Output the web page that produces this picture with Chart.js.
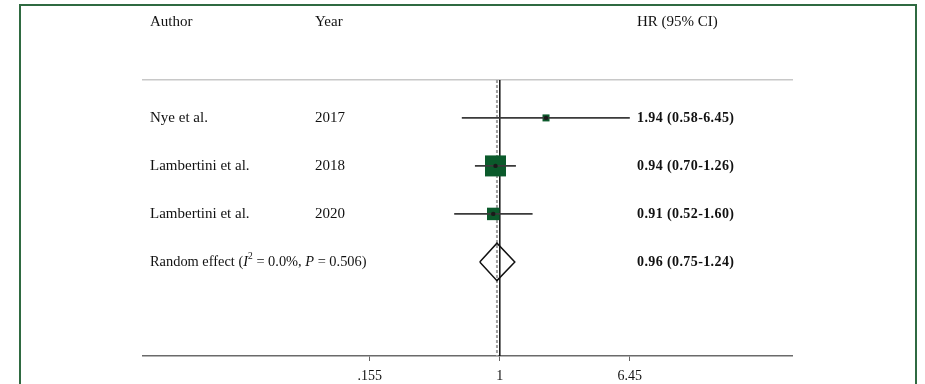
<!DOCTYPE html>
<html>
<head>
<meta charset="utf-8">
<script src="https://cdn.jsdelivr.net/npm/chart.js@4/dist/chart.umd.min.js"></script>
<style>
  html, body { margin: 0; padding: 0; background: #fff; overflow: hidden; }
  #wrap { position: relative; width: 925px; height: 384px; }
  #frame { position: absolute; left: 19px; top: 4px; width: 898px; height: 400px;
           border: 2px solid #2f6a41; border-bottom: none; box-sizing: border-box; pointer-events: none; }
  canvas { position: absolute; left: 0; top: 0; }
</style>
</head>
<body>
<div id="wrap">
  <canvas id="forest" width="925" height="384"></canvas>
  <div id="frame"></div>
</div>
<script>
// Study rows
const authors = ['Nye et al.', 'Lambertini et al.', 'Lambertini et al.'];
const years = ['2017', '2018', '2020'];
const hazardRatios = [1.94, 0.94, 0.91];
const ciLower = [0.58, 0.70, 0.52];
const ciUpper = [6.45, 1.26, 1.60];
const studyWeights = [7.6, 68.3, 24.1];

// Pooled (random effect) estimate
const pooledHR = 0.96;
const pooledLower = 0.75;
const pooledUpper = 1.24;
const pooledI2 = '0.0%';
const pooledP = '0.506';

// Axis ticks
const tickValues = [0.155, 1, 6.45];
const tickLabels = ['.155', '1', '6.45'];

const X_MIN = 0.006, X_MAX = 66;
const Y_MIN = 0.21, Y_MAX = 5.96;
const pooledRow = authors.length + 1;

const SERIF = "'Liberation Serif', 'Times New Roman', serif";
const GREEN = '#0b5a2b';
const MAX_SIDE = 21;

const fmt = v => v.toFixed(2);
const wMax = Math.max(...studyWeights);
const squareRadius = studyWeights.map(w => MAX_SIDE * Math.sqrt(w / wMax) / Math.SQRT2);

const datasets = [];

// reference line at HR = 1 and dashed line at the pooled estimate
datasets.push({
  type: 'line', order: 10,
  data: [{ x: 1, y: Y_MIN }, { x: 1, y: Y_MAX }],
  borderColor: '#111', borderWidth: 1.5, pointRadius: 0, fill: false
});
datasets.push({
  type: 'line', order: 9,
  data: [{ x: pooledHR, y: Y_MIN }, { x: pooledHR, y: Y_MAX }],
  borderColor: '#a0a0a0', borderWidth: 2, borderDash: [3, 2], pointRadius: 0, fill: false
});

// weighted squares
datasets.push({
  type: 'scatter', order: 8,
  data: hazardRatios.map((v, i) => ({ x: v, y: i + 1 })),
  pointStyle: 'rect', pointRadius: squareRadius,
  backgroundColor: GREEN, borderWidth: 0
});

// confidence interval whiskers
hazardRatios.forEach((v, i) => {
  datasets.push({
    type: 'line', order: 7,
    data: [{ x: ciLower[i], y: i + 1 }, { x: ciUpper[i], y: i + 1 }],
    borderColor: '#3a3a3a', borderWidth: 1.6, pointRadius: 0, fill: false
  });
});

// point estimate dots
datasets.push({
  type: 'scatter', order: 6,
  data: hazardRatios.map((v, i) => ({ x: v, y: i + 1 })),
  pointStyle: 'circle', pointRadius: 2.2,
  backgroundColor: '#1a1a1a', borderWidth: 0
});

// pooled diamond
const dh = 0.39;
datasets.push({
  type: 'line', order: 5,
  data: [
    { x: pooledLower, y: pooledRow },
    { x: pooledHR, y: pooledRow - dh },
    { x: pooledUpper, y: pooledRow },
    { x: pooledHR, y: pooledRow + dh },
    { x: pooledLower, y: pooledRow }
  ],
  borderColor: '#111', borderWidth: 1.5, pointRadius: 0, fill: false, tension: 0
});

function drawSegments(ctx, x, y, parts) {
  let cx = x;
  parts.forEach(p => {
    ctx.font = p.font;
    ctx.fillText(p.text, cx, y + (p.dy || 0));
    cx += ctx.measureText(p.text).width;
  });
}

const textColumns = {
  id: 'textColumns',
  afterDraw(chart) {
    const { ctx, chartArea } = chart;
    const ys = chart.scales.y;
    const authorX = chartArea.left + 7;
    const yearX = chartArea.left + 172;
    const hrX = chartArea.right - 155;
    const norm = '15px ' + SERIF;
    const bold = 'bold 14px ' + SERIF;
    ctx.save();
    ctx.fillStyle = '#111';
    ctx.textBaseline = 'middle';
    ctx.textAlign = 'left';

    const headY = chartArea.top - 58;
    ctx.font = norm;
    ctx.fillText('Author', authorX, headY);
    ctx.fillText('Year', yearX, headY);
    ctx.fillText('HR (95% CI)', hrX, headY);

    authors.forEach((a, i) => {
      const y = ys.getPixelForValue(i + 1);
      ctx.font = norm;
      ctx.letterSpacing = '0px';
      ctx.fillText(a, authorX, y);
      ctx.fillText(years[i], yearX, y);
      ctx.font = bold;
      ctx.letterSpacing = '0.4px';
      ctx.fillText(fmt(hazardRatios[i]) + ' (' + fmt(ciLower[i]) + '-' + fmt(ciUpper[i]) + ')', hrX, y);
    });

    const py = ys.getPixelForValue(pooledRow);
    ctx.letterSpacing = '0px';
    const small = '14.4px ' + SERIF;
    drawSegments(ctx, authorX, py, [
      { text: 'Random effect (', font: small },
      { text: 'I', font: 'italic 14.4px ' + SERIF },
      { text: '2', font: '9.5px ' + SERIF, dy: -5 },
      { text: ' = ' + pooledI2 + ', ', font: small },
      { text: 'P', font: 'italic 14.4px ' + SERIF },
      { text: ' = ' + pooledP + ')', font: small }
    ]);
    ctx.font = bold;
    ctx.letterSpacing = '0.4px';
    ctx.fillText(fmt(pooledHR) + ' (' + fmt(pooledLower) + '-' + fmt(pooledUpper) + ')', hrX, py);
    ctx.restore();
  }
};

new Chart(document.getElementById('forest'), {
  type: 'scatter',
  data: { datasets },
  options: {
    responsive: false,
    animation: false,
    events: [],
    layout: { padding: { left: 143, right: 133, top: 80, bottom: 0 } },
    plugins: { legend: { display: false }, tooltip: { enabled: false } },
    scales: {
      x: {
        type: 'logarithmic', position: 'bottom', min: X_MIN, max: X_MAX,
        afterBuildTicks: s => { s.ticks = tickValues.map(v => ({ value: v })); },
        afterFit: s => { s.height = 28; },
        ticks: {
          autoSkip: false, maxRotation: 0, padding: 7, color: '#111',
          font: { family: SERIF, size: 14 },
          callback: v => tickLabels[tickValues.indexOf(v)]
        },
        grid: { drawOnChartArea: false, drawTicks: true, tickLength: 5, color: '#666', lineWidth: 1 },
        border: { display: true, color: '#6a6a6a', width: 1.5 }
      },
      xTop: {
        type: 'logarithmic', position: 'top', min: X_MIN, max: X_MAX,
        afterFit: s => { s.height = 0; },
        ticks: { display: false },
        grid: { display: false, drawTicks: false },
        border: { display: true, color: '#c8c8c8', width: 1.5 }
      },
      y: {
        type: 'linear', reverse: true, min: Y_MIN, max: Y_MAX, display: false
      }
    }
  },
  plugins: [textColumns]
});
</script>
</body>
</html>
